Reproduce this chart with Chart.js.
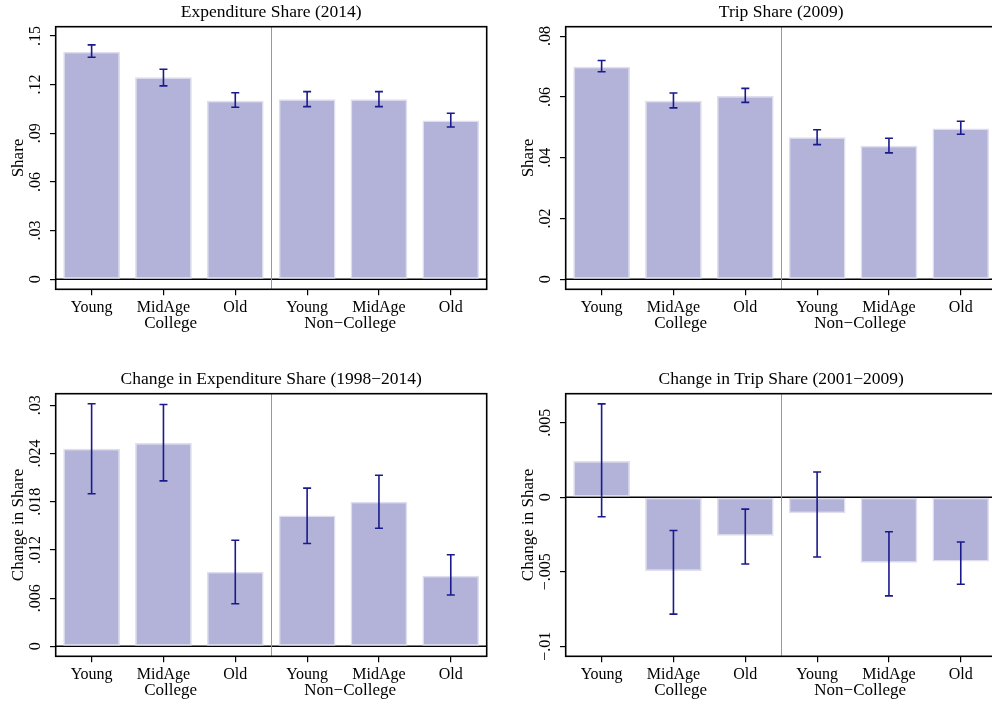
<!DOCTYPE html>
<html>
<head>
<meta charset="utf-8">
<script src="https://cdn.jsdelivr.net/npm/chart.js@4.4.1/dist/chart.umd.min.js"></script>
<style>
    html, body { margin: 0; padding: 0; background: #fff; overflow: hidden; width: 992px; height: 705px; position: relative; }
    canvas { position: absolute; }
</style>
</head>
<body>
<canvas id="exp-share-chart" width="496" height="338" style="left:0;top:0;width:496px;height:338px"></canvas>
<canvas id="trip-share-chart" width="496" height="338" style="left:510px;top:0;width:496px;height:338px"></canvas>
<canvas id="exp-change-chart" width="496" height="338" style="left:0;top:367px;width:496px;height:338px"></canvas>
<canvas id="trip-change-chart" width="496" height="338" style="left:510px;top:367px;width:496px;height:338px"></canvas>
<script>
// categories (3 age groups x 2 education groups)
const categories = ['Young', 'MidAge', 'Old', 'Young', 'MidAge', 'Old'];
const groups = ['College', 'Non\u2212College'];

// Expenditure share 2014
const expShare = [0.1403, 0.1245, 0.1101, 0.1110, 0.1110, 0.0978];
const expShareLo = [0.1369, 0.1192, 0.1060, 0.1064, 0.1064, 0.0939];
const expShareHi = [0.1445, 0.1295, 0.1150, 0.1157, 0.1157, 0.1023];
const expShareTicks = [0, 0.03, 0.06, 0.09, 0.12, 0.15];
const expShareTickLabels = ['0', '.03', '.06', '.09', '.12', '.15'];

// Trip share 2009
const tripShare = [0.0699, 0.0587, 0.0603, 0.0467, 0.0439, 0.0496];
const tripShareLo = [0.0683, 0.0564, 0.0582, 0.0443, 0.0416, 0.0477];
const tripShareHi = [0.0720, 0.0613, 0.0628, 0.0492, 0.0464, 0.0520];
const tripShareTicks = [0, 0.02, 0.04, 0.06, 0.08];
const tripShareTickLabels = ['0', '.02', '.04', '.06', '.08'];

// Change in expenditure share 1998-2014
const expChange = [0.0246, 0.0253, 0.0093, 0.0163, 0.0180, 0.0088];
const expChangeLo = [0.0190, 0.0206, 0.0053, 0.0128, 0.0147, 0.0064];
const expChangeHi = [0.0302, 0.0301, 0.0132, 0.0197, 0.0213, 0.0114];
const expChangeTicks = [0, 0.006, 0.012, 0.018, 0.024, 0.03];
const expChangeTickLabels = ['0', '.006', '.012', '.018', '.024', '.03'];

// Change in trip share 2001-2009
const tripChange = [0.00243, -0.00495, -0.00259, -0.00107, -0.00439, -0.00432];
const tripChangeLo = [-0.00131, -0.00784, -0.00448, -0.00401, -0.00662, -0.00584];
const tripChangeHi = [0.00626, -0.00223, -0.00080, 0.00169, -0.00232, -0.00301];
const tripChangeTicks = [-0.01, -0.005, 0, 0.005];
const tripChangeTickLabels = ['\u2212.01', '\u2212.005', '0', '.005'];

Chart.defaults.font.family = '"Liberation Serif", "Times New Roman", serif';
Chart.defaults.color = '#000';

const barFill = '#b3b3da';
const barEdge = '#dedeef';
const errColor = '#1a1a8c';

const panelDecor = {
    id: 'panelDecor',
    beforeDatasetsDraw(chart) {
        let ctx = chart.ctx, a = chart.chartArea, x = chart.scales.x, y = chart.scales.y;
        ctx.save();
        // zero line behind the bars
        let y0 = y.getPixelForValue(0);
        ctx.strokeStyle = '#000';
        ctx.lineWidth = 1.5;
        ctx.beginPath();
        ctx.moveTo(a.left, y0);
        ctx.lineTo(a.right, y0);
        ctx.stroke();
        // separator College | Non-College
        let xs = Math.round((x.getPixelForValue(2) + x.getPixelForValue(3)) / 2) + 0.5;
        ctx.strokeStyle = '#999';
        ctx.lineWidth = 1;
        ctx.beginPath();
        ctx.moveTo(xs, a.top);
        ctx.lineTo(xs, a.bottom);
        ctx.stroke();
        ctx.restore();
    },
    afterDatasetsDraw(chart) {
        let ctx = chart.ctx, y = chart.scales.y;
        let ds = chart.data.datasets[0];
        let meta = chart.getDatasetMeta(0);
        ctx.save();
        ctx.strokeStyle = errColor;
        ctx.lineWidth = 1.6;
        meta.data.forEach(function (bar, i) {
            let yl = y.getPixelForValue(ds.errLo[i]);
            let yh = y.getPixelForValue(ds.errHi[i]);
            ctx.beginPath();
            ctx.moveTo(bar.x, yl); ctx.lineTo(bar.x, yh);
            ctx.moveTo(bar.x - 4, yl); ctx.lineTo(bar.x + 4, yl);
            ctx.moveTo(bar.x - 4, yh); ctx.lineTo(bar.x + 4, yh);
            ctx.stroke();
        });
        ctx.restore();
    },
    afterDraw(chart) {
        let ctx = chart.ctx, a = chart.chartArea, x = chart.scales.x;
        ctx.save();
        ctx.strokeStyle = '#000';
        ctx.lineWidth = 1.6;
        ctx.strokeRect(a.left, a.top, a.right - a.left, a.bottom - a.top);
        // group labels under the category labels
        ctx.fillStyle = '#000';
        ctx.font = '17px ' + Chart.defaults.font.family;
        ctx.textAlign = 'center';
        ctx.textBaseline = 'alphabetic';
        ctx.fillText(groups[0], x.getPixelForValue(1.1), x.top + 39);
        ctx.fillText(groups[1], x.getPixelForValue(3.6), x.top + 39);
        ctx.restore();
    }
};

function drawPanel(canvasid, panel) {
    let ctx = document.getElementById(canvasid).getContext('2d');
    return new Chart(ctx, {
        type: 'bar',
        data: {
            labels: categories,
            datasets: [{
                data: panel.values,
                errLo: panel.lo,
                errHi: panel.hi,
                backgroundColor: barFill,
                borderColor: barEdge,
                borderWidth: 1.5,
                borderSkipped: false,
                barPercentage: 0.79,
                categoryPercentage: 1
            }]
        },
        options: {
            responsive: false,
            animation: false,
            devicePixelRatio: 1,
            layout: { padding: { left: 0, right: 9.3, top: 0, bottom: 0 } },
            plugins: {
                legend: { display: false },
                tooltip: { enabled: false },
                title: {
                    display: true,
                    text: panel.title,
                    fullSize: false,
                    font: { size: 17.5, weight: 'normal' },
                    padding: { top: 2, bottom: 3.7 }
                }
            },
            scales: {
                x: {
                    grid: { offset: false, drawOnChartArea: false, tickLength: 6, color: '#000', lineWidth: 1.2 },
                    border: { display: false },
                    ticks: { font: { size: 16 }, padding: 3, maxRotation: 0, autoSkip: false },
                    afterFit: function (s) { s.height = 48.7; }
                },
                y: {
                    min: panel.min,
                    max: panel.max,
                    afterBuildTicks: function (s) { s.ticks = panel.ticks.map(v => ({ value: v })); },
                    ticks: {
                        callback: (v, i) => panel.tickLabels[i],
                        minRotation: 90,
                        maxRotation: 90,
                        crossAlign: 'center',
                        padding: panel.tickPad,
                        font: { size: 16 }
                    },
                    grid: { drawOnChartArea: false, tickLength: 5.7, color: '#000', lineWidth: 1.2 },
                    border: { display: false },
                    title: { display: true, text: panel.ytitle, font: { size: 17 }, padding: { top: 8, bottom: 0 } },
                    afterFit: function (s) { s.width = 55.7; }
                }
            }
        },
        plugins: [panelDecor]
    });
}

drawPanel('exp-share-chart', {
    title: 'Expenditure Share (2014)', ytitle: 'Share',
    values: expShare, lo: expShareLo, hi: expShareHi,
    ticks: expShareTicks, tickLabels: expShareTickLabels,
    min: -0.0062, max: 0.1557, tickPad: 4.3
});
drawPanel('trip-share-chart', {
    title: 'Trip Share (2009)', ytitle: 'Share',
    values: tripShare, lo: tripShareLo, hi: tripShareHi,
    ticks: tripShareTicks, tickLabels: tripShareTickLabels,
    min: -0.0033, max: 0.0831, tickPad: 4.3
});
drawPanel('exp-change-chart', {
    title: 'Change in Expenditure Share (1998\u22122014)', ytitle: 'Change in Share',
    values: expChange, lo: expChangeLo, hi: expChangeHi,
    ticks: expChangeTicks, tickLabels: expChangeTickLabels,
    min: -0.00124, max: 0.03145, tickPad: 0.3
});
drawPanel('trip-change-chart', {
    title: 'Change in Trip Share (2001\u22122009)', ytitle: 'Change in Share',
    values: tripChange, lo: tripChangeLo, hi: tripChangeHi,
    ticks: tripChangeTicks, tickLabels: tripChangeTickLabels,
    min: -0.01067, max: 0.00694, tickPad: -4.2
});
</script>
</body>
</html>
